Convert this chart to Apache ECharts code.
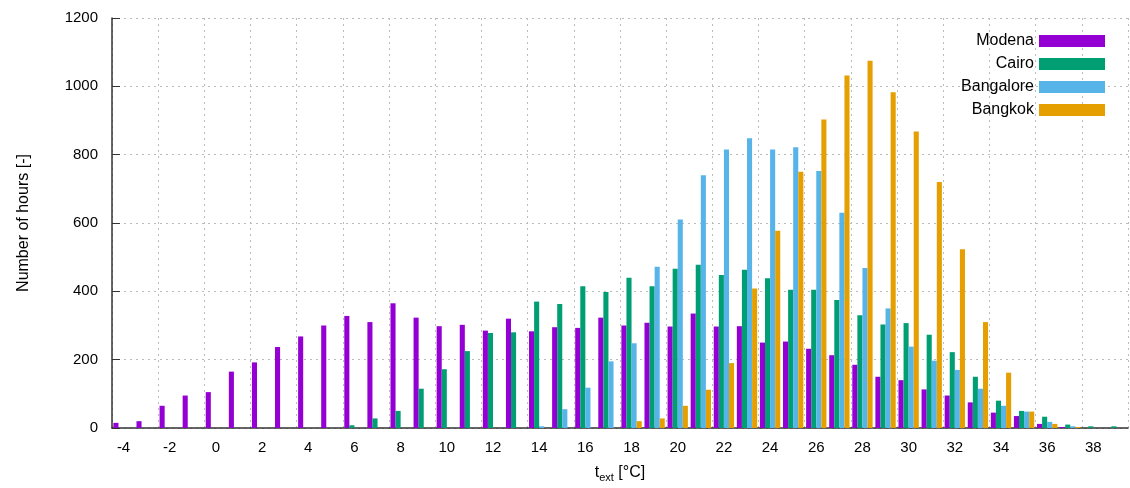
<!DOCTYPE html>
<html>
<head>
<meta charset="utf-8">
<script src="https://cdn.jsdelivr.net/npm/echarts@6/dist/echarts.min.js"></script>
<style>html,body{margin:0;padding:0;background:#fff}#chart{width:1130px;height:488px}</style>
</head>
<body>
<div id="chart"></div>
<script>
var temps = [];
for (var t = -4; t <= 39; t++) temps.push(String(t));
var modena = [15,20,65,95,105,165,192,237,268,300,328,310,365,323,298,302,285,320,283,295,293,323,300,308,297,335,297,298,250,253,232,213,185,150,140,113,95,75,45,35,12,3,0,0];
var cairo = [0,0,0,0,0,0,0,0,0,0,8,28,50,115,172,225,278,280,370,363,415,398,440,415,466,478,448,463,438,405,405,375,330,303,307,273,222,150,80,50,33,10,5,5];
var bangalore = [0,0,0,0,0,0,0,0,0,0,0,0,0,0,0,0,0,0,5,55,118,195,248,472,610,740,815,848,815,822,752,630,468,350,238,197,170,115,65,48,18,5,0,0];
var bangkok = [0,0,0,0,0,0,0,0,0,0,0,0,0,0,0,0,0,0,0,0,0,0,20,28,65,112,190,408,577,750,903,1032,1075,983,868,720,523,310,162,48,12,3,0,0];

(function () {
  var myChart = echarts.init(document.getElementById('chart'));
  var font = 'Liberation Sans, Arial, sans-serif';
  function bar(name, data, color) {
    return { name: name, type: 'bar', data: data, barGap: '0%', barCategoryGap: '12%',
      itemStyle: { color: color } };
  }
  var option = {
    animation: false,
    textStyle: { fontFamily: font },
    color: ['#9400d3', '#009e73', '#56b4e9', '#e69f00'],
    legend: {
      orient: 'vertical', right: 20, top: 28, align: 'right',
      itemWidth: 66, itemHeight: 12, itemGap: 7,
      icon: 'rect',
      textStyle: { fontSize: 16, color: '#000', fontFamily: font },
      data: ['Modena', 'Cairo', 'Bangalore', 'Bangkok']
    },
    grid: { left: 112, right: 2, top: 18, bottom: 58 },
    xAxis: {
      type: 'category', data: temps,
      name: '{t|t}{s|ext}{t| [°C]}', nameLocation: 'middle', nameGap: 34,
      nameTextStyle: { rich: { t: { fontSize: 16, color: '#000', fontFamily: font }, s: { fontSize: 11, color: '#000', fontFamily: font, verticalAlign: 'bottom', padding: [10, 0, 0, 0] } } },
      axisLine: { lineStyle: { color: '#333', width: 1.5 } },
      axisTick: { inside: true, length: 9, interval: 0, lineStyle: { color: '#999' } },
      axisLabel: { interval: 1, fontSize: 15, color: '#000', margin: 12 },
      splitLine: { show: true, interval: 1, lineStyle: { color: '#bbb', type: [2, 4] } }
    },
    yAxis: {
      type: 'value', min: 0, max: 1200, interval: 200,
      name: 'Number of hours [-]', nameLocation: 'middle', nameGap: 80,
      nameTextStyle: { fontSize: 16, color: '#000' },
      axisLine: { show: true, lineStyle: { color: '#333', width: 1.5 } },
      axisTick: { show: true, inside: true, length: 8, lineStyle: { color: '#333' } },
      axisLabel: { fontSize: 15, color: '#000', margin: 14, formatter: function (v) { return String(v); } },
      splitLine: { lineStyle: { color: '#bbb', type: [2, 4] } }
    },
    series: [
      bar('Modena', modena, '#9400d3'),
      bar('Cairo', cairo, '#009e73'),
      bar('Bangalore', bangalore, '#56b4e9'),
      bar('Bangkok', bangkok, '#e69f00')
    ]
  };
  myChart.setOption(option);
})();
</script>
</body>
</html>
